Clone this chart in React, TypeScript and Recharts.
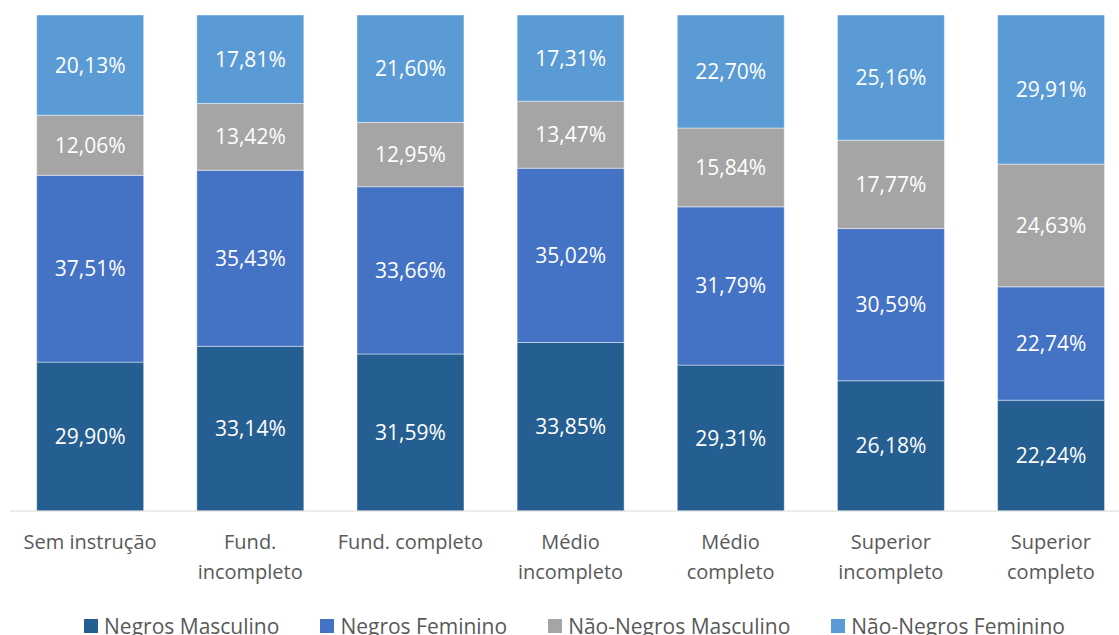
import { BarChart, Bar, XAxis, YAxis, LabelList, Legend } from 'recharts'

const CATEGORIES = [
  'Sem instrução',
  'Fund.\nincompleto',
  'Fund. completo',
  'Médio\nincompleto',
  'Médio\ncompleto',
  'Superior\nincompleto',
  'Superior\ncompleto',
]

const NEGROS_MASC = [29.9, 33.14, 31.59, 33.85, 29.31, 26.18, 22.24]
const NEGROS_FEM = [37.51, 35.43, 33.66, 35.02, 31.79, 30.59, 22.74]
const NAO_NEGROS_MASC = [12.06, 13.42, 12.95, 13.47, 15.84, 17.77, 24.63]
const NAO_NEGROS_FEM = [20.13, 17.81, 21.6, 17.31, 22.7, 25.16, 29.91]

const SERIES = [
  { key: 'nm', name: 'Negros Masculino', color: '#255E91' },
  { key: 'nf', name: 'Negros Feminino', color: '#4472C4' },
  { key: 'nnm', name: 'Não-Negros Masculino', color: '#A5A5A5' },
  { key: 'nnf', name: 'Não-Negros Feminino', color: '#5B9BD5' },
]

const data = CATEGORIES.map((cat, i) => ({
  cat,
  nm: NEGROS_MASC[i],
  nf: NEGROS_FEM[i],
  nnm: NAO_NEGROS_MASC[i],
  nnf: NAO_NEGROS_FEM[i],
}))

const FONT = '"Open Sans", sans-serif'
const TEXT = '#595959'

const fmt = (v: any) => `${Number(v).toFixed(2).replace('.', ',')}%`

// two-line category labels, like the wrapped Excel axis
const CategoryTick = ({ x, y, payload }: any) => {
  const lines = String(payload.value).split('\n')
  return (
    <text x={x} y={y} textAnchor="middle" fill={TEXT} fontSize={20} fontFamily={FONT}>
      {lines.map((line, i) => (
        <tspan key={i} x={x} dy={30}>
          {line}
        </tspan>
      ))}
    </text>
  )
}

const renderLegend = () => (
  <div
    style={{
      display: 'flex',
      justifyContent: 'center',
      alignItems: 'center',
      gap: 41,
      height: 30,
      paddingLeft: 8,
      fontFamily: FONT,
      fontSize: 21,
      color: TEXT,
    }}
  >
    {SERIES.map((s) => (
      <div key={s.key} style={{ display: 'flex', alignItems: 'center', gap: 6 }}>
        <span style={{ width: 14, height: 14, background: s.color, display: 'inline-block' }} />
        <span>{s.name}</span>
      </div>
    ))}
  </div>
)

export default function App() {
  return (
    <div
      style={{
        position: 'absolute',
        left: 0,
        top: 0,
        width: 1119,
        height: 635,
        overflow: 'hidden',
        background: '#fff',
      }}
    >
      <BarChart
        width={1140}
        height={641}
        data={data}
        stackOffset="expand"
        barCategoryGap="16.67%"
        margin={{ top: 15, right: 9, left: 10, bottom: 0 }}
      >
        <XAxis
          dataKey="cat"
          height={100}
          interval={0}
          tickLine={false}
          axisLine={{ stroke: '#d9d9d9', strokeWidth: 1 }}
          tick={<CategoryTick />}
        />
        <YAxis hide domain={[0, 1]} />
        <Legend verticalAlign="bottom" content={renderLegend} />
        {SERIES.map((s) => (
          <Bar
            key={s.key}
            dataKey={s.key}
            name={s.name}
            stackId="a"
            fill={s.color}
            stroke="rgba(255,255,255,0.45)"
            strokeWidth={1}
            isAnimationActive={false}
          >
            <LabelList
              dataKey={s.key}
              position="center"
              formatter={fmt}
              fill="#ffffff"
              fontSize={21}
              fontFamily={FONT}
            />
          </Bar>
        ))}
      </BarChart>
    </div>
  )
}
